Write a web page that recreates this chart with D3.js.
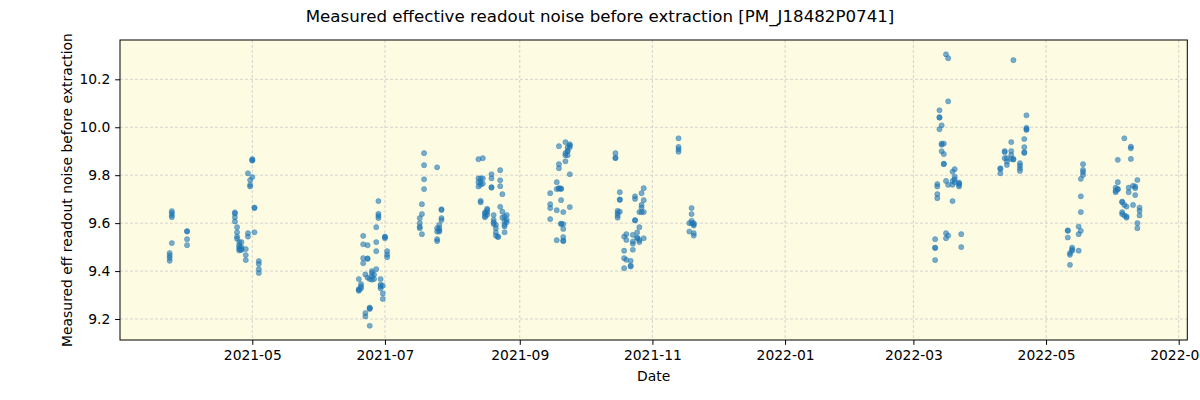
<!DOCTYPE html>
<html><head><meta charset="utf-8">
<script src="https://cdn.jsdelivr.net/npm/d3@7"></script>
<style>
html,body{margin:0;padding:0;background:#fff;}
svg{display:block;font-family:"DejaVu Sans",sans-serif;}
</style></head>
<body>
<svg id="chart" width="1200" height="400"></svg>
<script>
// ---- data: [date, [measured values on that date]] ----
const spring2021 = [
 ["2021-03-24", [9.475, 9.465, 9.455, 9.443]],
 ["2021-03-25", [9.650, 9.642, 9.633, 9.625, 9.517]],
 ["2021-04-01", [9.567, 9.565, 9.533, 9.508]],
 ["2021-04-23", [9.645, 9.640, 9.625, 9.607]],
 ["2021-04-24", [9.583, 9.562, 9.544, 9.535]],
 ["2021-04-25", [9.521, 9.508, 9.500, 9.492, 9.486]],
 ["2021-04-26", [9.521, 9.500, 9.492, 9.488]],
 ["2021-04-28", [9.492, 9.467, 9.446]],
 ["2021-04-29", [9.808, 9.558, 9.544]],
 ["2021-04-30", [9.780, 9.760, 9.753]],
 ["2021-05-01", [9.867, 9.863, 9.861, 9.792]],
 ["2021-05-02", [9.665, 9.663, 9.562]],
 ["2021-05-04", [9.442, 9.430, 9.408, 9.392]]
];
const summer2021 = [
 ["2021-06-19", [9.367, 9.325, 9.322, 9.318]],
 ["2021-06-20", [9.346, 9.336, 9.328]],
 ["2021-06-21", [9.547, 9.512, 9.454, 9.433]],
 ["2021-06-22", [9.386, 9.225, 9.211]],
 ["2021-06-23", [9.508, 9.453, 9.451, 9.373]],
 ["2021-06-24", [9.367, 9.248, 9.245, 9.242, 9.172]],
 ["2021-06-25", [9.400, 9.392, 9.378, 9.364]],
 ["2021-06-26", [9.385, 9.367]],
 ["2021-06-27", [9.583, 9.521, 9.483, 9.408]],
 ["2021-06-28", [9.692, 9.639, 9.630, 9.621]],
 ["2021-06-29", [9.367, 9.344, 9.336, 9.328]],
 ["2021-06-30", [9.339, 9.307, 9.284]],
 ["2021-07-01", [9.544, 9.542, 9.537]],
 ["2021-07-02", [9.483, 9.469, 9.458]],
 ["2021-07-17", [9.621, 9.600, 9.585, 9.579]],
 ["2021-07-18", [9.679, 9.638, 9.554]],
 ["2021-07-19", [9.892, 9.842, 9.783, 9.742]],
 ["2021-07-25", [9.833, 9.579, 9.565, 9.533, 9.525]],
 ["2021-07-26", [9.593, 9.579, 9.570, 9.565]],
 ["2021-07-27", [9.658, 9.655, 9.621, 9.613]]
];
const aug2021 = [
 ["2021-08-13", [9.867, 9.787, 9.771, 9.753]],
 ["2021-08-14", [9.787, 9.771, 9.760, 9.693, 9.687]],
 ["2021-08-15", [9.871, 9.787, 9.765]],
 ["2021-08-16", [9.645, 9.640, 9.630, 9.625]],
 ["2021-08-17", [9.660, 9.655, 9.645, 9.635]],
 ["2021-08-19", [9.804, 9.787, 9.750, 9.748]],
 ["2021-08-20", [9.634, 9.614, 9.604, 9.596]],
 ["2021-08-21", [9.593, 9.579, 9.562, 9.548]],
 ["2021-08-22", [9.544, 9.542]],
 ["2021-08-23", [9.821, 9.779, 9.754, 9.668]],
 ["2021-08-24", [9.721, 9.648, 9.623]],
 ["2021-08-25", [9.627, 9.607, 9.593, 9.586, 9.562]],
 ["2021-08-26", [9.634, 9.614, 9.604]]
];
const sep2021 = [
 ["2021-09-15", [9.725, 9.679, 9.663, 9.617]],
 ["2021-09-18", [9.771, 9.742, 9.654, 9.529]],
 ["2021-09-19", [9.921, 9.846, 9.829, 9.746, 9.744]],
 ["2021-09-20", [9.745, 9.742, 9.696, 9.598, 9.596]],
 ["2021-09-21", [9.646, 9.596, 9.576, 9.542, 9.527, 9.525]],
 ["2021-09-22", [9.938, 9.892, 9.883, 9.858]],
 ["2021-09-23", [9.917, 9.902, 9.900, 9.883]],
 ["2021-09-24", [9.929, 9.925, 9.917, 9.804, 9.667]]
];
const oct2021 = [
 ["2021-10-15", [9.892, 9.873, 9.871]],
 ["2021-10-16", [9.651, 9.642, 9.632, 9.623]],
 ["2021-10-17", [9.729, 9.699, 9.697, 9.648]],
 ["2021-10-19", [9.544, 9.485, 9.454, 9.412]],
 ["2021-10-20", [9.554, 9.530, 9.447]],
 ["2021-10-22", [9.443, 9.423, 9.419]],
 ["2021-10-23", [9.551, 9.523, 9.514, 9.489]],
 ["2021-10-24", [9.712, 9.701, 9.613, 9.611]],
 ["2021-10-25", [9.562, 9.540, 9.537]],
 ["2021-10-26", [9.646, 9.583, 9.530, 9.521]],
 ["2021-10-27", [9.725, 9.676, 9.665, 9.646]],
 ["2021-10-28", [9.746, 9.696, 9.646, 9.537]]
];
const nov2021 = [
 ["2021-11-13", [9.954, 9.918, 9.908, 9.898]],
 ["2021-11-18", [9.600, 9.565]],
 ["2021-11-19", [9.663, 9.638, 9.610, 9.600]],
 ["2021-11-20", [9.600, 9.595, 9.590, 9.558, 9.548]]
];
const mar2022 = [
 ["2022-03-11", [9.533, 9.498, 9.496, 9.446]],
 ["2022-03-12", [9.763, 9.753, 9.721, 9.704]],
 ["2022-03-13", [10.071, 10.042, 10.040, 9.992]],
 ["2022-03-14", [10.008, 9.932, 9.927, 9.900]],
 ["2022-03-15", [9.932, 9.888, 9.848, 9.846]],
 ["2022-03-16", [10.304, 9.776, 9.558, 9.537]],
 ["2022-03-17", [10.288, 10.108, 9.760, 9.548]],
 ["2022-03-19", [9.815, 9.776, 9.760, 9.692]],
 ["2022-03-20", [9.825, 9.794, 9.783, 9.771]],
 ["2022-03-22", [9.769, 9.765, 9.760, 9.753]],
 ["2022-03-23", [9.554, 9.500]]
];
const apr2022 = [
 ["2022-04-10", [9.829, 9.826, 9.808]],
 ["2022-04-12", [9.901, 9.896, 9.871]],
 ["2022-04-13", [9.871, 9.857, 9.843]],
 ["2022-04-15", [9.938, 9.901, 9.885, 9.868]],
 ["2022-04-16", [10.280, 9.868, 9.865]],
 ["2022-04-19", [9.850, 9.840, 9.829, 9.818]],
 ["2022-04-21", [9.951, 9.917, 9.896, 9.893]],
 ["2022-04-22", [10.050, 9.998, 9.992, 9.989]]
];
const may2022 = [
 ["2022-05-11", [9.570, 9.568, 9.540]],
 ["2022-05-12", [9.475, 9.468, 9.426]],
 ["2022-05-13", [9.498, 9.490, 9.485]],
 ["2022-05-16", [9.586, 9.554, 9.485]],
 ["2022-05-17", [9.785, 9.712, 9.646, 9.568]],
 ["2022-05-18", [9.846, 9.822, 9.813, 9.801]]
];
const jun2022 = [
 ["2022-06-02", [9.748, 9.735, 9.729]],
 ["2022-06-03", [9.864, 9.771, 9.743, 9.740]],
 ["2022-06-05", [9.690, 9.687, 9.646, 9.638]],
 ["2022-06-06", [9.954, 9.676, 9.632]],
 ["2022-06-07", [9.669, 9.628, 9.623]],
 ["2022-06-08", [9.748, 9.729]],
 ["2022-06-09", [9.919, 9.912, 9.868]],
 ["2022-06-10", [9.756, 9.676]],
 ["2022-06-11", [9.753, 9.746, 9.717]],
 ["2022-06-12", [9.780, 9.600, 9.579]],
 ["2022-06-13", [9.665, 9.651, 9.632]]
];
const yTickValues = [9.2, 9.4, 9.6, 9.8, 10.0, 10.2];
const xDomain = ["2021-03-01T04:00", "2022-07-04T23:00"];
const yDomain = [9.1125, 10.364];
const titleText = "Measured effective readout noise before extraction [PM_J18482P0741]";
const xLabel = "Date";
const yLabel = "Measured eff readout noise before extraction";

// ---- build ----
const parseDay = d3.utcParse("%Y-%m-%d");
const parseDT = d3.utcParse("%Y-%m-%dT%H:%M");
const points = [];
[spring2021, summer2021, aug2021, sep2021, oct2021, nov2021, mar2022, apr2022, may2022, jun2022]
  .forEach(g => g.forEach(([d, vals]) => vals.forEach(v => points.push({date: parseDay(d), value: v}))));

const svg = d3.select("#chart");
const L = 120, T = 40, R = 1187.3, B = 340;
const x = d3.scaleUtc().domain(xDomain.map(parseDT)).range([L, R]);
const y = d3.scaleLinear().domain(yDomain).range([B, T]);

svg.append("rect").attr("x", L).attr("y", T).attr("width", R - L).attr("height", B - T)
  .attr("fill", "#fdfce2");

const xTicks = x.ticks(d3.utcMonth.every(2));
const grid = svg.append("g").attr("stroke", "#c9c9c9").attr("stroke-width", 0.8)
  .attr("stroke-dasharray", "3,2");
grid.selectAll(".gx").data(xTicks).join("line")
  .attr("x1", d => x(d)).attr("x2", d => x(d)).attr("y1", T).attr("y2", B);
grid.selectAll(".gy").data(yTickValues).join("line")
  .attr("x1", L).attr("x2", R).attr("y1", d => y(d)).attr("y2", d => y(d));

svg.append("g").selectAll("circle").data(points).join("circle")
  .attr("cx", d => x(d.date)).attr("cy", d => y(d.value)).attr("r", 2.6)
  .attr("fill", "#1f77b4").attr("fill-opacity", 0.6)
  .attr("stroke", "#1f77b4").attr("stroke-opacity", 0.6).attr("stroke-width", 0.6);

svg.append("rect").attr("x", L).attr("y", T).attr("width", R - L).attr("height", B - T)
  .attr("fill", "none").attr("stroke", "#000").attr("stroke-width", 1);

const xAxis = svg.append("g").attr("transform", `translate(0,${B})`)
  .call(d3.axisBottom(x).tickValues(xTicks).tickFormat(d3.utcFormat("%Y-%m"))
    .tickSize(4.86).tickPadding(4.86));
const yAxis = svg.append("g").attr("transform", `translate(${L},0)`)
  .call(d3.axisLeft(y).tickValues(yTickValues).tickFormat(d3.format(".1f"))
    .tickSize(4.86).tickPadding(4.86));
[xAxis, yAxis].forEach(a => {
  a.select(".domain").remove();
  a.selectAll("text").attr("font-family", "DejaVu Sans").attr("font-size", 13.89).attr("fill", "#000");
  a.selectAll("line").attr("stroke", "#000").attr("stroke-width", 1);
});

svg.append("text").attr("x", 600).attr("y", 22).attr("text-anchor", "middle")
  .attr("font-size", 16.67).text(titleText);
svg.append("text").attr("x", (L + R) / 2).attr("y", 381).attr("text-anchor", "middle")
  .attr("font-size", 13.89).text(xLabel);
svg.append("text").attr("transform", `translate(71.5,${(T + B) / 2}) rotate(-90)`)
  .attr("text-anchor", "middle").attr("font-size", 13.89).text(yLabel);
</script>
</body></html>
